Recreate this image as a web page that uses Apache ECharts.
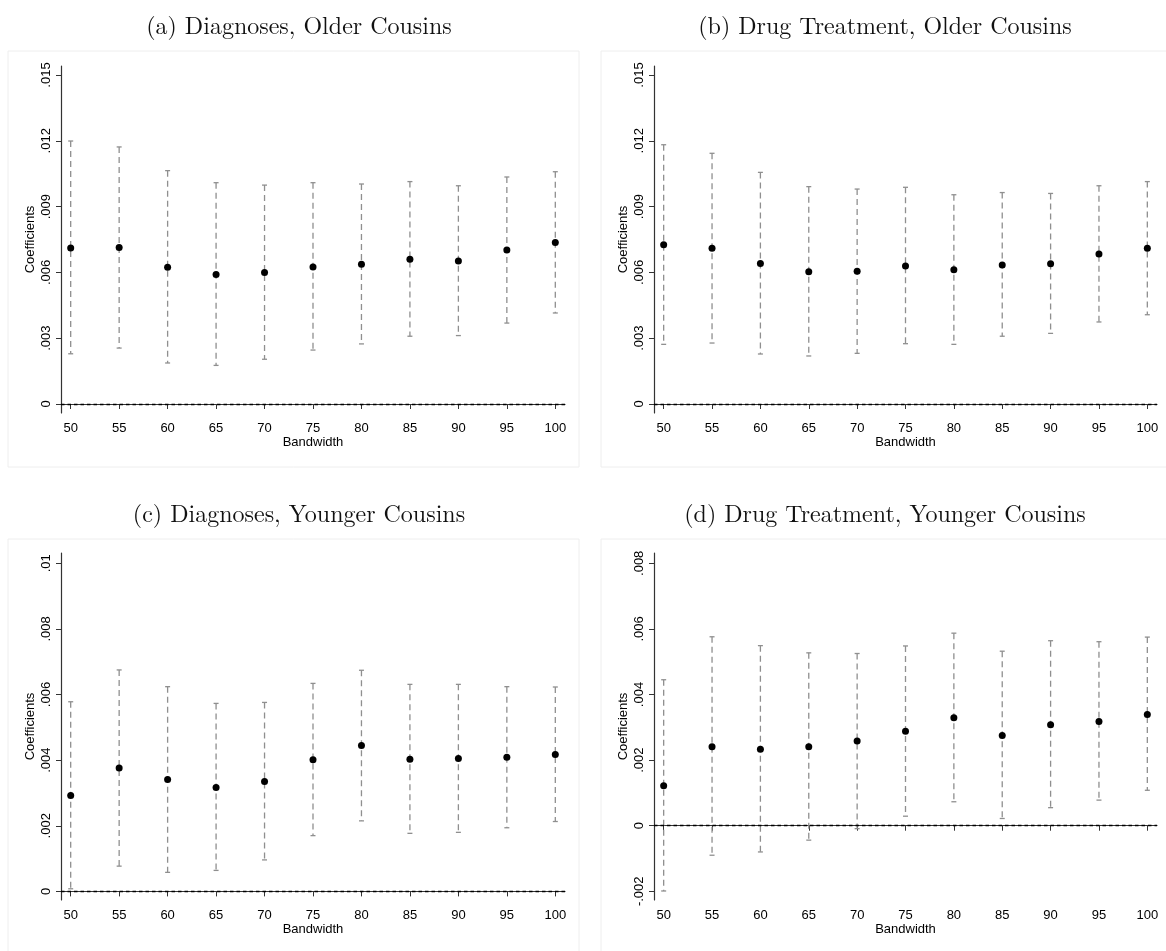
<!DOCTYPE html>
<html>
<head>
<meta charset="utf-8">
<script src="https://cdn.jsdelivr.net/npm/echarts@6/dist/echarts.min.js"></script>
<style>
  html, body { margin: 0; padding: 0; background: #fff; }
  #main { width: 1166px; height: 951px; }
</style>
</head>
<body>
<div id="main"></div>
<script>
// bandwidths shared by all four panels
const bandwidths = [50, 55, 60, 65, 70, 75, 80, 85, 90, 95, 100];

// (a) Diagnoses, Older Cousins
const coefA = [0.00711, 0.00713, 0.00623, 0.00591, 0.00600, 0.00625, 0.00637, 0.00660, 0.00652, 0.00702, 0.00736];
const lowA  = [0.00229, 0.00255, 0.00187, 0.00176, 0.00204, 0.00246, 0.00274, 0.00309, 0.00312, 0.00369, 0.00415];
const highA = [0.01199, 0.01172, 0.01064, 0.01009, 0.00998, 0.01009, 0.01003, 0.01014, 0.00995, 0.01035, 0.01059];

// (b) Drug Treatment, Older Cousins
const coefB = [0.00726, 0.00710, 0.00641, 0.00603, 0.00605, 0.00629, 0.00612, 0.00634, 0.00640, 0.00684, 0.00710];
const lowB  = [0.00272, 0.00278, 0.00228, 0.00219, 0.00231, 0.00275, 0.00272, 0.00309, 0.00322, 0.00374, 0.00407];
const highB = [0.01182, 0.01143, 0.01056, 0.00991, 0.00980, 0.00988, 0.00954, 0.00964, 0.00960, 0.00995, 0.01014];

// (c) Diagnoses, Younger Cousins
const coefC = [0.00292, 0.00376, 0.00341, 0.00317, 0.00335, 0.00401, 0.00445, 0.00403, 0.00405, 0.00409, 0.00417];
const lowC  = [0.00008, 0.00077, 0.00058, 0.00064, 0.00096, 0.00170, 0.00215, 0.00177, 0.00180, 0.00194, 0.00213];
const highC = [0.00578, 0.00675, 0.00624, 0.00573, 0.00576, 0.00634, 0.00674, 0.00631, 0.00631, 0.00624, 0.00623];

// (d) Drug Treatment, Younger Cousins
const coefD = [0.00122, 0.00241, 0.00233, 0.00241, 0.00258, 0.00288, 0.00329, 0.00275, 0.00308, 0.00318, 0.00339];
const lowD  = [-0.00199, -0.00090, -0.00080, -0.00044, -0.00009, 0.00029, 0.00073, 0.00022, 0.00055, 0.00078, 0.00108];
const highD = [0.00445, 0.00576, 0.00549, 0.00527, 0.00525, 0.00548, 0.00587, 0.00532, 0.00564, 0.00561, 0.00575];

// tick labels
const yTicksOlder = [0, 0.003, 0.006, 0.009, 0.012, 0.015];
const yTicksC = [0, 0.002, 0.004, 0.006, 0.008, 0.01];
const yTicksD = [-0.002, 0, 0.002, 0.004, 0.006, 0.008];

const titles = [
  '(a) Diagnoses, Older Cousins',
  '(b) Drug Treatment, Older Cousins',
  '(c) Diagnoses, Younger Cousins',
  '(d) Drug Treatment, Younger Cousins'
];

const panels = [
  { coef: coefA, low: lowA, high: highA, ticks: yTicksOlder, min: -0.00041, max: 0.01541 },
  { coef: coefB, low: lowB, high: highB, ticks: yTicksOlder, min: -0.00041, max: 0.01541 },
  { coef: coefC, low: lowC, high: highC, ticks: yTicksC, min: -0.000262, max: 0.010314 },
  { coef: coefD, low: lowD, high: highD, ticks: yTicksD, min: -0.002265, max: 0.008314 }
];

// plot area of each panel, in pixels
const grids = [
  { left: 61, top: 66, width: 504, height: 347 },
  { left: 654, top: 66, width: 503, height: 347 },
  { left: 61, top: 553, width: 504, height: 347 },
  { left: 654, top: 553, width: 503, height: 347 }
];
const titlePos = [[294, 10], [880, 10], [294, 498], [880, 498]];

const sans = 'Liberation Sans, Arial, sans-serif';
const axisCol = '#333';

function fmtTick(v) {
  if (v === 0) return '0';
  return String(parseFloat(v.toFixed(4))).replace('0.', '.');
}

// dashed vertical error bar with small caps
function renderBar(params, api) {
  const x = api.value(0);
  const top = api.coord([x, api.value(2)]);
  const bot = api.coord([x, api.value(1)]);
  const style = { stroke: '#8f8f8f', lineWidth: 1.3 };
  return {
    type: 'group',
    children: [
      { type: 'line', shape: { x1: top[0], y1: top[1], x2: bot[0], y2: bot[1] },
        style: Object.assign({ lineDash: [6, 4] }, style) },
      { type: 'line', shape: { x1: top[0] - 2.5, y1: top[1], x2: top[0] + 2.5, y2: top[1] }, style: style },
      { type: 'line', shape: { x1: bot[0] - 2.5, y1: bot[1], x2: bot[0] + 2.5, y2: bot[1] }, style: style }
    ]
  };
}

const chart = echarts.init(document.getElementById('main'));

const option = {
  backgroundColor: '#fff',
  animation: false,
  title: titles.map((t, i) => ({
    text: t,
    left: titlePos[i][0],
    top: titlePos[i][1],
    textAlign: 'center',
    textStyle: { fontFamily: 'Latin Modern Roman, Liberation Serif, serif', fontWeight: 'normal', fontSize: 24, color: '#111' }
  })),
  grid: grids.map(g => Object.assign({ containLabel: false }, g)),
  xAxis: grids.map((g, i) => ({
    type: 'value',
    gridIndex: i,
    min: 49,
    max: 101,
    name: 'Bandwidth',
    nameLocation: 'middle',
    nameGap: 22,
    nameTextStyle: { fontFamily: sans, fontSize: 13, color: '#000' },
    axisLine: { lineStyle: { color: axisCol, width: 1.2 } },
    axisTick: { customValues: bandwidths, length: 5, lineStyle: { color: axisCol } },
    axisLabel: { customValues: bandwidths, margin: 9, fontFamily: sans, fontSize: 13, color: '#000' },
    splitLine: { show: false }
  })),
  yAxis: panels.map((p, i) => ({
    type: 'value',
    gridIndex: i,
    min: p.min,
    max: p.max,
    name: 'Coefficients',
    nameLocation: 'middle',
    nameGap: 24,
    nameTextStyle: { fontFamily: sans, fontSize: 13, color: '#000' },
    axisLine: { show: true, lineStyle: { color: axisCol, width: 1.2 } },
    axisTick: { show: true, customValues: p.ticks, length: 5, lineStyle: { color: axisCol } },
    axisLabel: { customValues: p.ticks, rotate: 90, margin: 8, fontFamily: sans, fontSize: 13, color: '#000', formatter: fmtTick },
    splitLine: { show: false }
  })),
  series: []
};

panels.forEach((p, i) => {
  option.series.push({
    type: 'custom',
    xAxisIndex: i,
    yAxisIndex: i,
    renderItem: renderBar,
    data: bandwidths.map((b, k) => [b, p.low[k], p.high[k]]),
    z: 2,
    markLine: {
      silent: true,
      symbol: 'none',
      label: { show: false },
      lineStyle: { color: '#000', type: [3.5, 3], width: 1.3, opacity: 1 },
      emphasis: { disabled: true },
      data: [{ yAxis: 0 }]
    }
  });
  option.series.push({
    type: 'scatter',
    xAxisIndex: i,
    yAxisIndex: i,
    symbol: 'circle',
    symbolSize: 7,
    itemStyle: { color: '#000', opacity: 1 },
    data: bandwidths.map((b, k) => [b, p.coef[k]]),
    z: 3
  });
});

// faint frames around each panel, like the exported graph regions
option.graphic = [
  { type: 'rect', shape: { x: 8, y: 51, width: 571, height: 416 }, style: { fill: 'none', stroke: '#eeeeee' }, silent: true },
  { type: 'rect', shape: { x: 601, y: 51, width: 570, height: 416 }, style: { fill: 'none', stroke: '#eeeeee' }, silent: true },
  { type: 'rect', shape: { x: 8, y: 539, width: 571, height: 420 }, style: { fill: 'none', stroke: '#eeeeee' }, silent: true },
  { type: 'rect', shape: { x: 601, y: 539, width: 570, height: 420 }, style: { fill: 'none', stroke: '#eeeeee' }, silent: true }
];

chart.setOption(option);
</script>
</body>
</html>
